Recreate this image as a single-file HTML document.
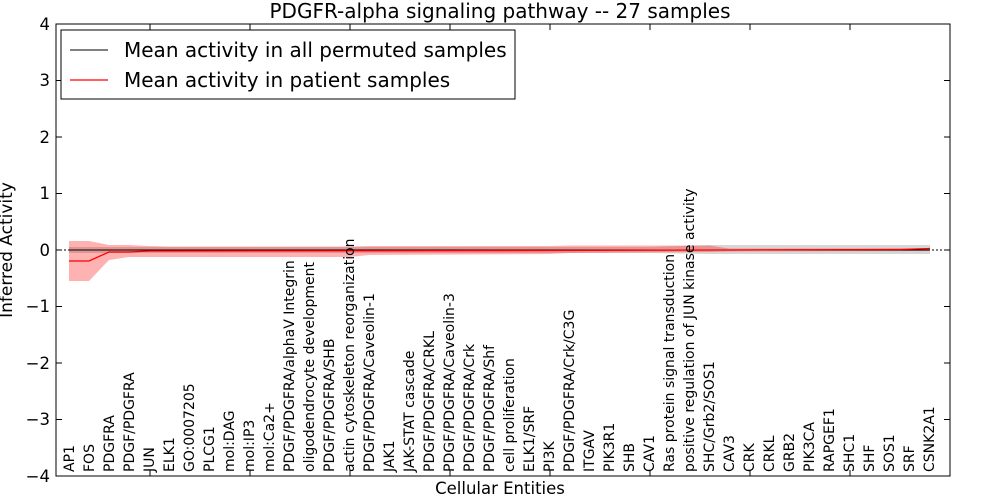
<!DOCTYPE html>
<html><head><meta charset="utf-8"><style>
body{margin:0;background:#fff}
svg{display:block;font-family:"DejaVu Sans","Liberation Sans",sans-serif}
</style></head><body>
<svg width="1000" height="500" viewBox="0 0 1000 500" xmlns="http://www.w3.org/2000/svg">
<rect width="1000" height="500" fill="#fff"/>
<text x="500" y="18" font-size="20" text-anchor="middle">PDGFR-alpha signaling pathway -- 27 samples</text>
<polygon points="69,247 650,247 710,245 930,245 930,254 710,254 650,253 69,253" fill="#bbbbbb" opacity="0.6"/>
<polygon fill="#ff0000" fill-opacity="0.3" points="69,241 89,241 109,245 129,245 149,246 169,246.5 349,246.5 369,246 549,246 569,245.5 709,245.5 729,248.5 930,248.5 930,246 930,251 729,251.5 709,252 569,253 549,254 369,255 349,257 169,257 149,257 129,257 109,260 89,281 69,281"/>
<line x1="56" y1="250" x2="950" y2="250" stroke="#000" stroke-width="1" stroke-dasharray="2,2"/>
<polyline fill="none" stroke="#000" stroke-width="1" points="69,250 930,250"/>
<polyline fill="none" stroke="#ff0000" stroke-width="1.3" points="69,261 89,261 109,252 129,252 149,251 169,251 549,250.5 709,250 729,250 900,249.5 930,248.5"/>
<rect x="56" y="24" width="894" height="452" fill="none" stroke="#000" stroke-width="1"/>
<g stroke="#000" stroke-width="1">
<line x1="56" y1="24" x2="62" y2="24"/><line x1="56" y1="80.5" x2="62" y2="80.5"/><line x1="56" y1="137" x2="62" y2="137"/><line x1="56" y1="193.5" x2="62" y2="193.5"/><line x1="56" y1="250" x2="62" y2="250"/><line x1="56" y1="306.5" x2="62" y2="306.5"/><line x1="56" y1="363" x2="62" y2="363"/><line x1="56" y1="419.5" x2="62" y2="419.5"/>
<line x1="944" y1="24" x2="950" y2="24"/><line x1="944" y1="80.5" x2="950" y2="80.5"/><line x1="944" y1="137" x2="950" y2="137"/><line x1="944" y1="193.5" x2="950" y2="193.5"/><line x1="944" y1="250" x2="950" y2="250"/><line x1="944" y1="306.5" x2="950" y2="306.5"/><line x1="944" y1="363" x2="950" y2="363"/><line x1="944" y1="419.5" x2="950" y2="419.5"/>
<line x1="150" y1="476" x2="150" y2="470"/><line x1="250" y1="476" x2="250" y2="470"/><line x1="350" y1="476" x2="350" y2="470"/><line x1="450" y1="476" x2="450" y2="470"/><line x1="550" y1="476" x2="550" y2="470"/><line x1="650" y1="476" x2="650" y2="470"/><line x1="750" y1="476" x2="750" y2="470"/><line x1="850" y1="476" x2="850" y2="470"/>
<line x1="150" y1="24" x2="150" y2="30"/><line x1="250" y1="24" x2="250" y2="30"/><line x1="350" y1="24" x2="350" y2="30"/><line x1="450" y1="24" x2="450" y2="30"/><line x1="550" y1="24" x2="550" y2="30"/><line x1="650" y1="24" x2="650" y2="30"/><line x1="750" y1="24" x2="750" y2="30"/><line x1="850" y1="24" x2="850" y2="30"/>
</g>
<g font-size="16.5" text-anchor="end">
<text x="50" y="30">4</text><text x="50" y="86">3</text><text x="50" y="143">2</text><text x="50" y="199">1</text><text x="50" y="256">0</text><text x="50" y="312">−1</text><text x="50" y="369">−2</text><text x="50" y="425">−3</text><text x="50" y="482">−4</text>
</g>
<text x="500" y="494" font-size="16.5" text-anchor="middle">Cellular Entities</text>
<text transform="translate(12,250) rotate(-90)" font-size="17" text-anchor="middle">Inferred Activity</text>
<rect x="61" y="30" width="454" height="69" fill="#fff" stroke="#000" stroke-width="1"/>
<line x1="70" y1="50" x2="108" y2="50" stroke="#000" stroke-width="1"/>
<text x="124" y="57" font-size="20">Mean activity in all permuted samples</text>
<line x1="70" y1="80" x2="108" y2="80" stroke="#ff0000" stroke-width="1.3"/>
<text x="124" y="87" font-size="20">Mean activity in patient samples</text>
<g font-size="14">
<text transform="translate(74,472) rotate(-90)">AP1</text>
<text transform="translate(94,472) rotate(-90)">FOS</text>
<text transform="translate(114,472) rotate(-90)">PDGFRA</text>
<text transform="translate(134,472) rotate(-90)">PDGF/PDGFRA</text>
<text transform="translate(154,472) rotate(-90)">JUN</text>
<text transform="translate(174,472) rotate(-90)">ELK1</text>
<text transform="translate(194,472) rotate(-90)">GO:0007205</text>
<text transform="translate(214,472) rotate(-90)">PLCG1</text>
<text transform="translate(234,472) rotate(-90)">mol:DAG</text>
<text transform="translate(254,472) rotate(-90)">mol:IP3</text>
<text transform="translate(274,472) rotate(-90)">mol:Ca2+</text>
<text transform="translate(294,472) rotate(-90)">PDGF/PDGFRA/alphaV Integrin</text>
<text transform="translate(314,472) rotate(-90)">oligodendrocyte development</text>
<text transform="translate(334,472) rotate(-90)">PDGF/PDGFRA/SHB</text>
<text transform="translate(354,472) rotate(-90)">actin cytoskeleton reorganization</text>
<text transform="translate(374,472) rotate(-90)">PDGF/PDGFRA/Caveolin-1</text>
<text transform="translate(394,472) rotate(-90)">JAK1</text>
<text transform="translate(414,472) rotate(-90)">JAK-STAT cascade</text>
<text transform="translate(434,472) rotate(-90)">PDGF/PDGFRA/CRKL</text>
<text transform="translate(454,472) rotate(-90)">PDGF/PDGFRA/Caveolin-3</text>
<text transform="translate(474,472) rotate(-90)">PDGF/PDGFRA/Crk</text>
<text transform="translate(494,472) rotate(-90)">PDGF/PDGFRA/Shf</text>
<text transform="translate(514,472) rotate(-90)">cell proliferation</text>
<text transform="translate(534,472) rotate(-90)">ELK1/SRF</text>
<text transform="translate(554,472) rotate(-90)">PI3K</text>
<text transform="translate(574,472) rotate(-90)">PDGF/PDGFRA/Crk/C3G</text>
<text transform="translate(594,472) rotate(-90)">ITGAV</text>
<text transform="translate(614,472) rotate(-90)">PIK3R1</text>
<text transform="translate(634,472) rotate(-90)">SHB</text>
<text transform="translate(654,472) rotate(-90)">CAV1</text>
<text transform="translate(674,472) rotate(-90)">Ras protein signal transduction</text>
<text transform="translate(694,472) rotate(-90)">positive regulation of JUN kinase activity</text>
<text transform="translate(714,472) rotate(-90)">SHC/Grb2/SOS1</text>
<text transform="translate(734,472) rotate(-90)">CAV3</text>
<text transform="translate(754,472) rotate(-90)">CRK</text>
<text transform="translate(774,472) rotate(-90)">CRKL</text>
<text transform="translate(794,472) rotate(-90)">GRB2</text>
<text transform="translate(814,472) rotate(-90)">PIK3CA</text>
<text transform="translate(834,472) rotate(-90)">RAPGEF1</text>
<text transform="translate(854,472) rotate(-90)">SHC1</text>
<text transform="translate(874,472) rotate(-90)">SHF</text>
<text transform="translate(894,472) rotate(-90)">SOS1</text>
<text transform="translate(914,472) rotate(-90)">SRF</text>
<text transform="translate(934,472) rotate(-90)">CSNK2A1</text>
</g>
</svg>
</body></html>
